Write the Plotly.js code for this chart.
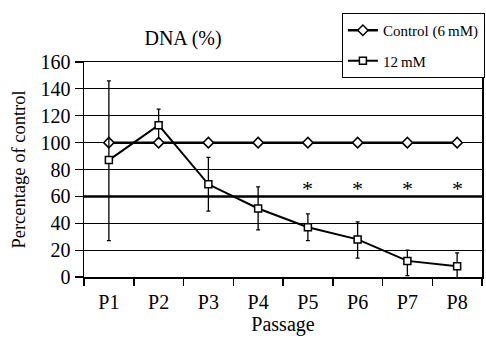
<!DOCTYPE html>
<html><head><meta charset="utf-8">
<script src="https://cdn.plot.ly/plotly-3.0.1.min.js"></script>
<style>html,body{margin:0;padding:0;background:#fff;}#chart{width:486px;height:341px;}</style>
</head><body><div id="chart"></div>
<script>
const passages = ['P1','P2','P3','P4','P5','P6','P7','P8'];
const control = [100,100,100,100,100,100,100,100];
const mM12 = [87,113,69,51,37,28,12,8];
const mM12ErrPlus = [59,12,20,16,10,13,8,10];
const mM12ErrMinus = [60,10,20,16,10,14,11,10];
const significance = ['','','','','*','*','*','*'];
const yTicks = [0,20,40,60,80,100,120,140,160];

const font = 'Liberation Serif';
const traces = [
  {x: passages, y: control, name: 'Control (6\u2009mM)', type: 'scatter', mode: 'lines+markers',
   legendgroup: 'a', cliponaxis: false,
   line: {color: '#000', width: 2.5},
   marker: {symbol: 'diamond', size: 8, color: '#fff', line: {color: '#000', width: 1.5}}},
  {x: passages, y: mM12, name: '12\u2009mM', type: 'scatter', mode: 'lines+markers',
   legendgroup: 'b', cliponaxis: false,
   line: {color: '#000', width: 2},
   marker: {symbol: 'square', size: 7, color: '#fff', line: {color: '#000', width: 1.5}},
   error_y: {type: 'data', symmetric: false, array: mM12ErrPlus, arrayminus: mM12ErrMinus,
             color: '#000', thickness: 1.3, width: 2}}
];
const annotations = passages.map((p, i) => significance[i] ? {
  x: p, y: 66, xref: 'x', yref: 'y', text: significance[i], showarrow: false,
  font: {family: font, size: 22, color: '#000'}
} : null).filter(a => a);

const layout = {
  width: 486, height: 341,
  margin: {l: 84, r: 4, t: 62, b: 64, autoexpand: false},
  paper_bgcolor: '#fff', plot_bgcolor: '#fff',
  font: {family: font, color: '#000'},
  title: {text: 'DNA (%)', x: 0.249, xref: 'paper', xanchor: 'center',
          y: 0.889, yref: 'container', yanchor: 'middle',
          font: {family: font, size: 20, color: '#000'}},
  xaxis: {type: 'category', range: [-0.5, 7.5], tickson: 'boundaries', ticks: 'outside',
          ticklen: 7, tickwidth: 1.5, tickcolor: '#000', showgrid: false, zeroline: false,
          showline: true, linecolor: '#000', linewidth: 1.5, mirror: true,
          tickfont: {family: font, size: 20, color: '#000'}, ticklabelstandoff: 6,
          title: {text: 'Passage', font: {family: font, size: 20, color: '#000'}, standoff: 3}},
  yaxis: {range: [0, 160], tickvals: yTicks, ticks: 'outside', ticklen: 8, tickwidth: 1.2,
          tickcolor: '#000', showgrid: true, gridcolor: '#000', gridwidth: 1.2, zeroline: false,
          showline: true, linecolor: '#000', linewidth: 1.5, mirror: true,
          tickfont: {family: font, size: 20, color: '#000'},
          title: {text: 'Percentage of control', font: {family: font, size: 18.5, color: '#000'}, standoff: 10}},
  shapes: [{type: 'line', xref: 'paper', x0: 0, x1: 1, yref: 'y', y0: 60, y1: 60,
            line: {color: '#000', width: 2.5}, layer: 'below'}],
  annotations: annotations,
  showlegend: true,
  legend: {x: 0.648, xanchor: 'left', y: 1.228, yanchor: 'top', xref: 'paper', yref: 'paper',
           bgcolor: '#fff', bordercolor: '#000', borderwidth: 1, tracegroupgap: 8, traceorder: 'grouped',
           font: {family: font, size: 15, color: '#000'}, itemwidth: 30}
};
Plotly.newPlot('chart', traces, layout, {displayModeBar: false, staticPlot: true});
</script></body></html>
